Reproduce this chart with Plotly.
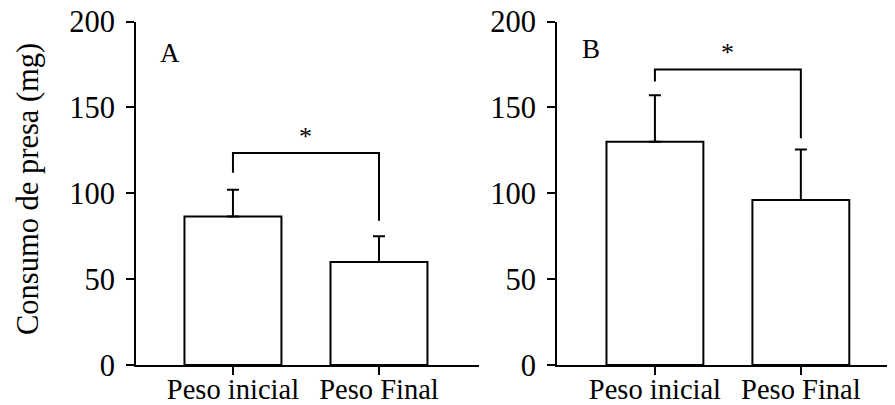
import plotly.graph_objects as go

categories = ["Peso inicial", "Peso Final"]
a_means = [86.5, 60]
a_err = [15.5, 15]
b_means = [130, 96]
b_err = [27, 29.5]
y_ticks = [0, 50, 100, 150, 200]

# significance brackets: [left leg bottom, top, right leg bottom]
a_bracket = [112, 123.5, 84]
b_bracket = [165, 172, 132]
a_star_y = 133
b_star_y = 182

W, H = 895, 405
OFF = 8  # page body margin offset
FONT = "Liberation Serif, Times New Roman, serif"


def px(x):
    return (x - OFF) / W


def py(y):
    return 1 - (y - OFF) / H


fig = go.Figure()


def add_panel(means, err, bracket, star_y, xa, ya, label, label_xy):
    fig.add_trace(go.Bar(
        x=[0, 1], y=means, width=0.664,
        marker=dict(color="white", line=dict(color="black", width=2)),
        error_y=dict(type="data", array=err, arrayminus=[0, 0], symmetric=False,
                     color="black", thickness=2, width=6),
        xaxis=xa, yaxis=ya, showlegend=False, hoverinfo="skip"))
    fig.add_trace(go.Scatter(
        x=[0, 0, 1, 1], y=[bracket[0], bracket[1], bracket[1], bracket[2]],
        mode="lines", line=dict(color="black", width=2),
        xaxis=xa, yaxis=ya, showlegend=False, hoverinfo="skip"))
    fig.add_annotation(x=0.5, y=star_y, xref=xa, yref=ya, text="*",
                       xanchor="center", yanchor="middle",
                       showarrow=False, font=dict(family=FONT, size=26, color="black"))
    fig.add_annotation(x=px(label_xy[0]), y=py(label_xy[1]), xref="paper", yref="paper",
                       text=label, showarrow=False, xanchor="center", yanchor="middle",
                       font=dict(family=FONT, size=27, color="black"))


add_panel(a_means, a_err, a_bracket, a_star_y, "x", "y", "A", (170, 53))
add_panel(b_means, b_err, b_bracket, b_star_y, "x2", "y2", "B", (591, 49))

xcommon = dict(showline=True, linecolor="black", linewidth=2, ticks="outside",
               ticklen=8, tickwidth=2, tickcolor="black", tickvals=[0, 1],
               ticktext=categories, showgrid=False, zeroline=False, automargin=False,
               ticklabelstandoff=-10, ticklabeloverflow="allow",
               tickfont=dict(family=FONT, size=28.5, color="black"), fixedrange=True)
ycommon = dict(showline=True, linecolor="black", linewidth=2, ticks="outside",
               ticklen=8, tickwidth=2, tickcolor="black", tickvals=y_ticks,
               range=[0, 200], showgrid=False, zeroline=False, automargin=False,
               ticklabeloverflow="allow",
               tickfont=dict(family=FONT, size=30.5, color="black"),
               ticklabelstandoff=5, domain=[py(365), py(21.5)])

fig.update_layout(
    width=W, height=H, margin=dict(l=0, r=0, t=0, b=0, autoexpand=False),
    paper_bgcolor="white", plot_bgcolor="white",
    xaxis=dict(domain=[px(136), px(479)], range=[-0.664, 1.685], anchor="y", **xcommon),
    yaxis=dict(anchor="x", **ycommon),
    xaxis2=dict(domain=[px(557), 1.0], range=[-0.671, 1.70], anchor="y2", **xcommon),
    yaxis2=dict(anchor="x2", **ycommon),
)

fig.add_annotation(x=px(28), y=py(189), xref="paper", yref="paper",
                   text="Consumo de presa (mg)", textangle=-90, showarrow=False,
                   xanchor="center", yanchor="middle",
                   font=dict(family=FONT, size=30.5, color="black"))

fig.write_html("out.html")
